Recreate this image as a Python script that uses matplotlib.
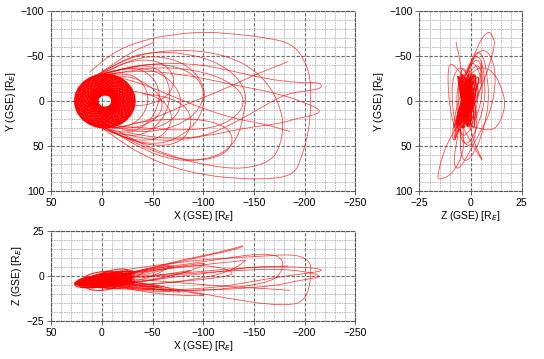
import numpy as np
import matplotlib
matplotlib.use('Agg')
import matplotlib.pyplot as plt
from matplotlib.patches import Circle, PathPatch
from matplotlib.path import Path
from matplotlib.transforms import Affine2D
from matplotlib.ticker import MultipleLocator

plt.rcParams['font.family'] = ['Liberation Sans', 'DejaVu Sans']

# dense ring of near-Earth orbits: apse-line direction in the XY plane (deg)
ring_angle = [0, 5, 10, 15, 20, 25, 30, 35, 40, 45, 50, 55, 60, 65, 70, 75, 80, 85,
              90, 95, 100, 105, 110, 115, 120, 125, 130, 135, 140, 145, 150, 155, 160, 165, 170, 175,
              180, 185, 190, 195, 200, 205, 210, 215, 220, 225, 230, 235, 240, 245, 250, 255, 260, 265,
              270, 275, 280, 285, 290, 295, 300, 305, 310, 315, 320, 325, 330, 335, 340, 345, 350, 355]
ring_apogee = [30, 28, 29.5]
ring_perigee = [7, 8.5, 7.5]
ring_z0 = [-3.9, -2.7, -1.5]
ring_kx = [-0.02, -0.06, -0.10]
ring_ky = [0.08, -0.10, 0.02, -0.14]
hole_center = (-3, 0)

# long excursions, (X, Y, Z) in Earth radii
orbit_a = [(12, -32, -2), (-8, -53, 2), (-41, -68, 5), (-70, -74, 7), (-100, -77, 9),
           (-127, -75, 10), (-160, -71, 11), (-188, -64, 12), (-200, -46, 10),
           (-206, -25, 7), (-206, -5, 3), (-206, 13, -2), (-203, 40, -10),
           (-197, 62, -14), (-190, 82, -16), (-165, 87, -16), (-130, 86, -13),
           (-100, 82, -10), (-70, 74, -7), (-40, 60, -4), (-15, 42, -3), (2, 28, -4)]
orbit_b = [(2, -30, -1), (-20, -46, 1), (-48, -55, 3), (-84, -53, 5), (-112, -44, 7),
           (-133, -28, 8), (-143, -8, 9), (-140, 15, 8), (-134, 42, 5), (-118, 60, 1),
           (-90, 67, -2), (-64, 64, -4), (-40, 53, -5), (-20, 40, -5), (-5, 30, -5)]
orbit_c = [(-10, 30, -5), (-40, 25, -3), (-80, 5, 0), (-127, -16, 3), (-146, -27, 5),
           (-184, -44, 5.4)]
orbit_d = [(-5, -30, -1), (-40, -20, -2), (-80, 0, -4), (-127, 19, -6), (-159, 25, -7),
           (-186, 34, -8)]
orbit_e = [(0, -30, -2), (-40, -42, 0), (-90, -42, 2), (-127, -34, 4), (-160, -25, 5),
           (-195, -20, 5), (-214, -21, 4), (-218, -16, 3), (-210, -12, 2), (-183, -9, 0),
           (-159, 6, -2), (-130, 25, -5), (-100, 40, -7), (-60, 45, -8), (-25, 38, -7),
           (-5, 30, -5)]
orbit_f = [(5, -29, -3), (-20, -45, 0), (-50, -55, 4), (-90, -57, 7), (-125, -50, 10),
           (-150, -35, 12), (-167, -15, 12), (-177, 10, 10), (-179, 29, 6), (-176, 50, 1),
           (-167, 67, -3), (-140, 76, -6), (-105, 72, -8), (-70, 62, -8),
           (-40, 48, -7), (-18, 35, -6)]
orbit_g = [(5, -28, -3), (-30, -35, -1), (-80, -30, 1), (-130, -18, 3), (-176, -8, 4),
           (-205, 4, 2), (-216, 10, 0), (-212, 15, -1), (-190, 20, -3), (-176, 25, -5),
           (-140, 30, -7), (-100, 40, -8), (-60, 42, -8), (-25, 35, -7)]
orbit_h = [(0, -28, -1), (-30, -35, 2), (-70, -38, 7), (-110, -30, 12), (-134, -15, 15),
           (-141, 0, 17), (-135, 15, 16), (-115, 29, 13), (-80, 33, 9),
           (-45, 30, 4), (-15, 28, 0)]
orbit_i = [(0, 28, -4), (-30, 45, 0), (-60, 60, 4), (-90, 67, 6), (-117, 62, 5),
           (-130, 48, 2), (-126, 30, 0), (-100, 20, -2), (-60, 20, -4), (-30, 25, -5)]
orbit_j = [(10, -25, -4), (-10, -40, -5), (-30, -55, -6), (-45, -62, -7), (-52, -66, -7)]
orbit_k = [(5, -28, -4), (-25, -38, -7), (-55, -42, -10), (-85, -35, -11),
           (-102, -15, -11), (-97, 10, -10), (-75, 28, -8), (-45, 35, -7), (-20, 32, -6)]
orbit_l = [(0, -30, -2), (-25, -38, -4), (-50, -35, -7), (-70, -22, -9), (-80, 0, -9),
           (-72, 20, -8), (-50, 32, -6), (-25, 32, -5), (-5, 28, -5)]
orbit_m = [(8, -27, -3), (-20, -30, -4), (-45, -20, -6), (-62, 0, -7), (-55, 20, -6),
           (-35, 30, -5), (-10, 30, -5)]
orbit_n = [(0, -30, -2), (-30, -48, 1), (-60, -50, 4), (-85, -40, 6), (-100, -20, 7),
           (-102, 0, 7), (-94, 25, 4), (-70, 45, 0), (-45, 48, -3), (-20, 40, -5),
           (-3, 30, -5)]
orbit_o = [(5, -28, -3), (-20, -32, 0), (-38, -25, 3), (-47, -5, 4), (-42, 15, 2),
           (-28, 28, -2), (-10, 30, -5)]
orbit_p = [(0, -30, -2), (-25, -38, -3), (-45, -33, -5), (-57, -15, -6), (-56, 5, -6),
           (-46, 25, -6), (-28, 36, -6), (-8, 32, -5)]
orbit_q = [(-5, -30, -1), (-30, -40, 2), (-55, -38, 5), (-67, -20, 6), (-67, 5, 5),
           (-55, 28, 1), (-35, 40, -3), (-12, 35, -5)]
orbit_r = [(10, 25, -6), (-15, 38, -7), (-40, 45, -8), (-60, 40, -9), (-71, 20, -8),
           (-63, 0, -6), (-40, -10, -4), (-20, -12, -3)]
orbit_s = [(10, -25, -3), (-15, -40, 0), (-40, -47, 3), (-62, -42, 5), (-73, -25, 6),
           (-66, -5, 4), (-45, 5, 1), (-25, 5, -1)]
orbit_t = [(0, 30, -5), (-25, 42, -4), (-50, 50, -2), (-75, 48, 1), (-89, 30, 3),
           (-86, 8, 3), (-65, -5, 1), (-40, -8, -1)]
orbits = [orbit_a, orbit_b, orbit_c, orbit_d, orbit_e, orbit_f, orbit_g,
          orbit_h, orbit_i, orbit_j, orbit_k, orbit_l, orbit_m, orbit_n,
          orbit_o, orbit_p, orbit_q, orbit_r, orbit_s, orbit_t]

RED = '#ff0000'


# One ring orbit as centre + two axis vectors in 3D (Z follows a tilted plane)
def ring_ellipse(i):
    th = np.radians(ring_angle[i])
    ra = ring_apogee[i % 3]
    rp = ring_perigee[i % 3]
    a, c, b = (ra + rp) / 2, (ra - rp) / 2, np.sqrt(ra * rp)
    z0, kx, ky = ring_z0[i % 3], ring_kx[i % 3], ring_ky[i % 4]
    cx = hole_center[0] + c * np.cos(th)
    cy = hole_center[1] + c * np.sin(th)
    u = (a * np.cos(th), a * np.sin(th))
    v = (-b * np.sin(th), b * np.cos(th))
    cen = (cx, cy, z0 + kx * cx + ky * cy)
    u = (u[0], u[1], kx * u[0] + ky * u[1])
    v = (v[0], v[1], kx * v[0] + ky * v[1])
    return cen, u, v


# waypoints used as quadratic Bezier control points so matplotlib draws a smooth track
def track_path(pts):
    verts, codes = [pts[0]], [Path.MOVETO]
    for i in range(1, len(pts) - 1):
        verts += [pts[i], (pts[i] + pts[i + 1]) / 2]
        codes += [Path.CURVE3, Path.CURVE3]
    verts.append(pts[-1])
    codes.append(Path.LINETO)
    return Path(verts, codes)


def style_axes(ax, xmaj, xmin, ymaj, ymin):
    ax.xaxis.set_major_locator(MultipleLocator(xmaj))
    ax.xaxis.set_minor_locator(MultipleLocator(xmin))
    ax.yaxis.set_major_locator(MultipleLocator(ymaj))
    ax.yaxis.set_minor_locator(MultipleLocator(ymin))
    ax.grid(which='minor', color='#b4b4b4', lw=0.6, ls=(0, (2, 1)))
    ax.grid(which='major', color='#6a6a6a', lw=0.8, ls=(0, (3, 1.5)))
    ax.set_axisbelow(True)
    for s in ax.spines.values():
        s.set_color('#555555')
        s.set_linewidth(0.8)
        s.set_linestyle((0, (3, 1.5)))
    ax.tick_params(which='major', length=3, width=0.6, color='#555555',
                   labelsize=7.5, pad=2)
    ax.tick_params(which='minor', length=0)


# h, w: which coordinate (0=X, 1=Y, 2=Z) goes across and up
def draw_panel(ax, h, w):
    for i in range(len(ring_angle)):
        cen, u, v = ring_ellipse(i)
        m = Affine2D.from_values(u[h], u[w], v[h], v[w], cen[h], cen[w])
        ax.add_patch(Circle((0, 0), 1, fill=False, ec=RED, lw=0.8, alpha=0.85,
                            transform=m + ax.transData))
    for orb in orbits:
        p = np.array(orb, dtype=float)[:, [h, w]]
        ax.add_patch(PathPatch(track_path(p), fill=False, ec=RED, lw=0.6, alpha=0.7))


fig = plt.figure(figsize=(5.44, 3.59), dpi=100)
ax_xy = fig.add_axes([0.094, 0.468, 0.559, 0.501])
ax_zy = fig.add_axes([0.771, 0.468, 0.188, 0.501])
ax_xz = fig.add_axes([0.094, 0.106, 0.559, 0.251])

draw_panel(ax_xy, 0, 1)
ax_xy.set_xlim(50, -250)
ax_xy.set_ylim(100, -100)
style_axes(ax_xy, 50, 10, 50, 10)
ax_xy.set_xlabel('X (GSE) [R$_E$]', fontsize=7.5, labelpad=1)
ax_xy.set_ylabel('Y (GSE) [R$_E$]', fontsize=7.5, labelpad=2)

draw_panel(ax_zy, 2, 1)
ax_zy.set_xlim(-25, 25)
ax_zy.set_ylim(100, -100)
style_axes(ax_zy, 25, 5, 50, 10)
ax_zy.set_xlabel('Z (GSE) [R$_E$]', fontsize=7.5, labelpad=1)
ax_zy.set_ylabel('Y (GSE) [R$_E$]', fontsize=7.5, labelpad=2)

draw_panel(ax_xz, 0, 2)
ax_xz.set_xlim(50, -250)
ax_xz.set_ylim(-25, 25)
style_axes(ax_xz, 50, 10, 25, 5)
ax_xz.set_xlabel('X (GSE) [R$_E$]', fontsize=7.5, labelpad=1)
ax_xz.set_ylabel('Z (GSE) [R$_E$]', fontsize=7.5, labelpad=2)

fig.savefig('out.png', dpi=100)
